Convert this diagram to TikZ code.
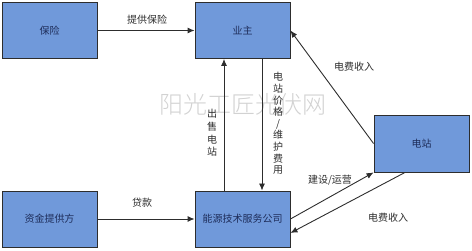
\documentclass[tikz,border=0pt]{standalone}
\usepackage{fontspec}
\setmainfont{Noto Sans CJK SC}
\newfontfamily\wmfont{Noto Sans CJK SC Light}
\usetikzlibrary{arrows.meta,calc}
\definecolor{boxfill}{RGB}{112,153,218}
\definecolor{boxtext}{RGB}{30,45,90}
\definecolor{linecol}{RGB}{45,45,45}
\definecolor{wmcol}{RGB}{210,210,210}
\tikzset{
  party/.style={draw=linecol, line width=0.9pt, fill=boxfill, minimum width=95pt, minimum height=56pt, inner sep=0pt, text=boxtext, font=\fontsize{10}{12}\selectfont},
  flow/.style={draw=linecol, line width=0.9pt, -{Latex[length=7pt,width=6pt]}},
  lbl/.style={text=linecol, inner sep=0pt, font=\fontsize{10}{12}\selectfont},
  vlbl/.style={lbl, align=center},
}
\begin{document}
\begin{tikzpicture}[x=1pt,y=-1pt]
\useasboundingbox (0,0) rectangle (472,251);
\node[text=wmcol, font=\wmfont\fontsize{24}{26}\selectfont, inner sep=0pt] (wm) at (243,104) {阳光工匠光伏网};
\node[party] (bx) at (49.5,30.5) {保险};
\node[party] (yz) at (242.5,30.5) {业主};
\node[party] (zj) at (49.5,219) {资金提供方};
\node[party] (ny) at (242.5,219) {能源技术服务公司};
\node[party, minimum height=57pt] (dz) at (421.5,143.5) {电站};
\draw[flow] (bx.east) -- (yz.west);
\draw[flow] (zj.east) -- (ny.west);
\draw[flow] (ny.north -| 224,0) -- (yz.south -| 224,0);
\draw[flow] (yz.south -| 262,0) -- (ny.north -| 262,0);
\draw[flow] (dz.west) -- (yz.east);
\draw[flow] (ny.east) -- (dz.south west);
\draw[flow] (dz.south -| 405,0) -- (ny.east |- 0,233);
\node[lbl] (l1) at (147,20) {提供保险};
\node[lbl] (l2) at (142,203) {贷款};
\node[lbl] (l3) at (354,67) {电费收入};
\node[lbl] (l4) at (330,180) {建设/运营};
\node[lbl] (l5) at (388,218) {电费收入};
\node[vlbl, font=\fontsize{10}{12.8}\selectfont] (l6) at (212,133) {出\\售\\电\\站};
\node[vlbl, font=\fontsize{10}{11.6}\selectfont] (l7) at (278,123.5) {电\\站\\价\\格\\/\\维\\护\\费\\用};
\end{tikzpicture}
\end{document}
